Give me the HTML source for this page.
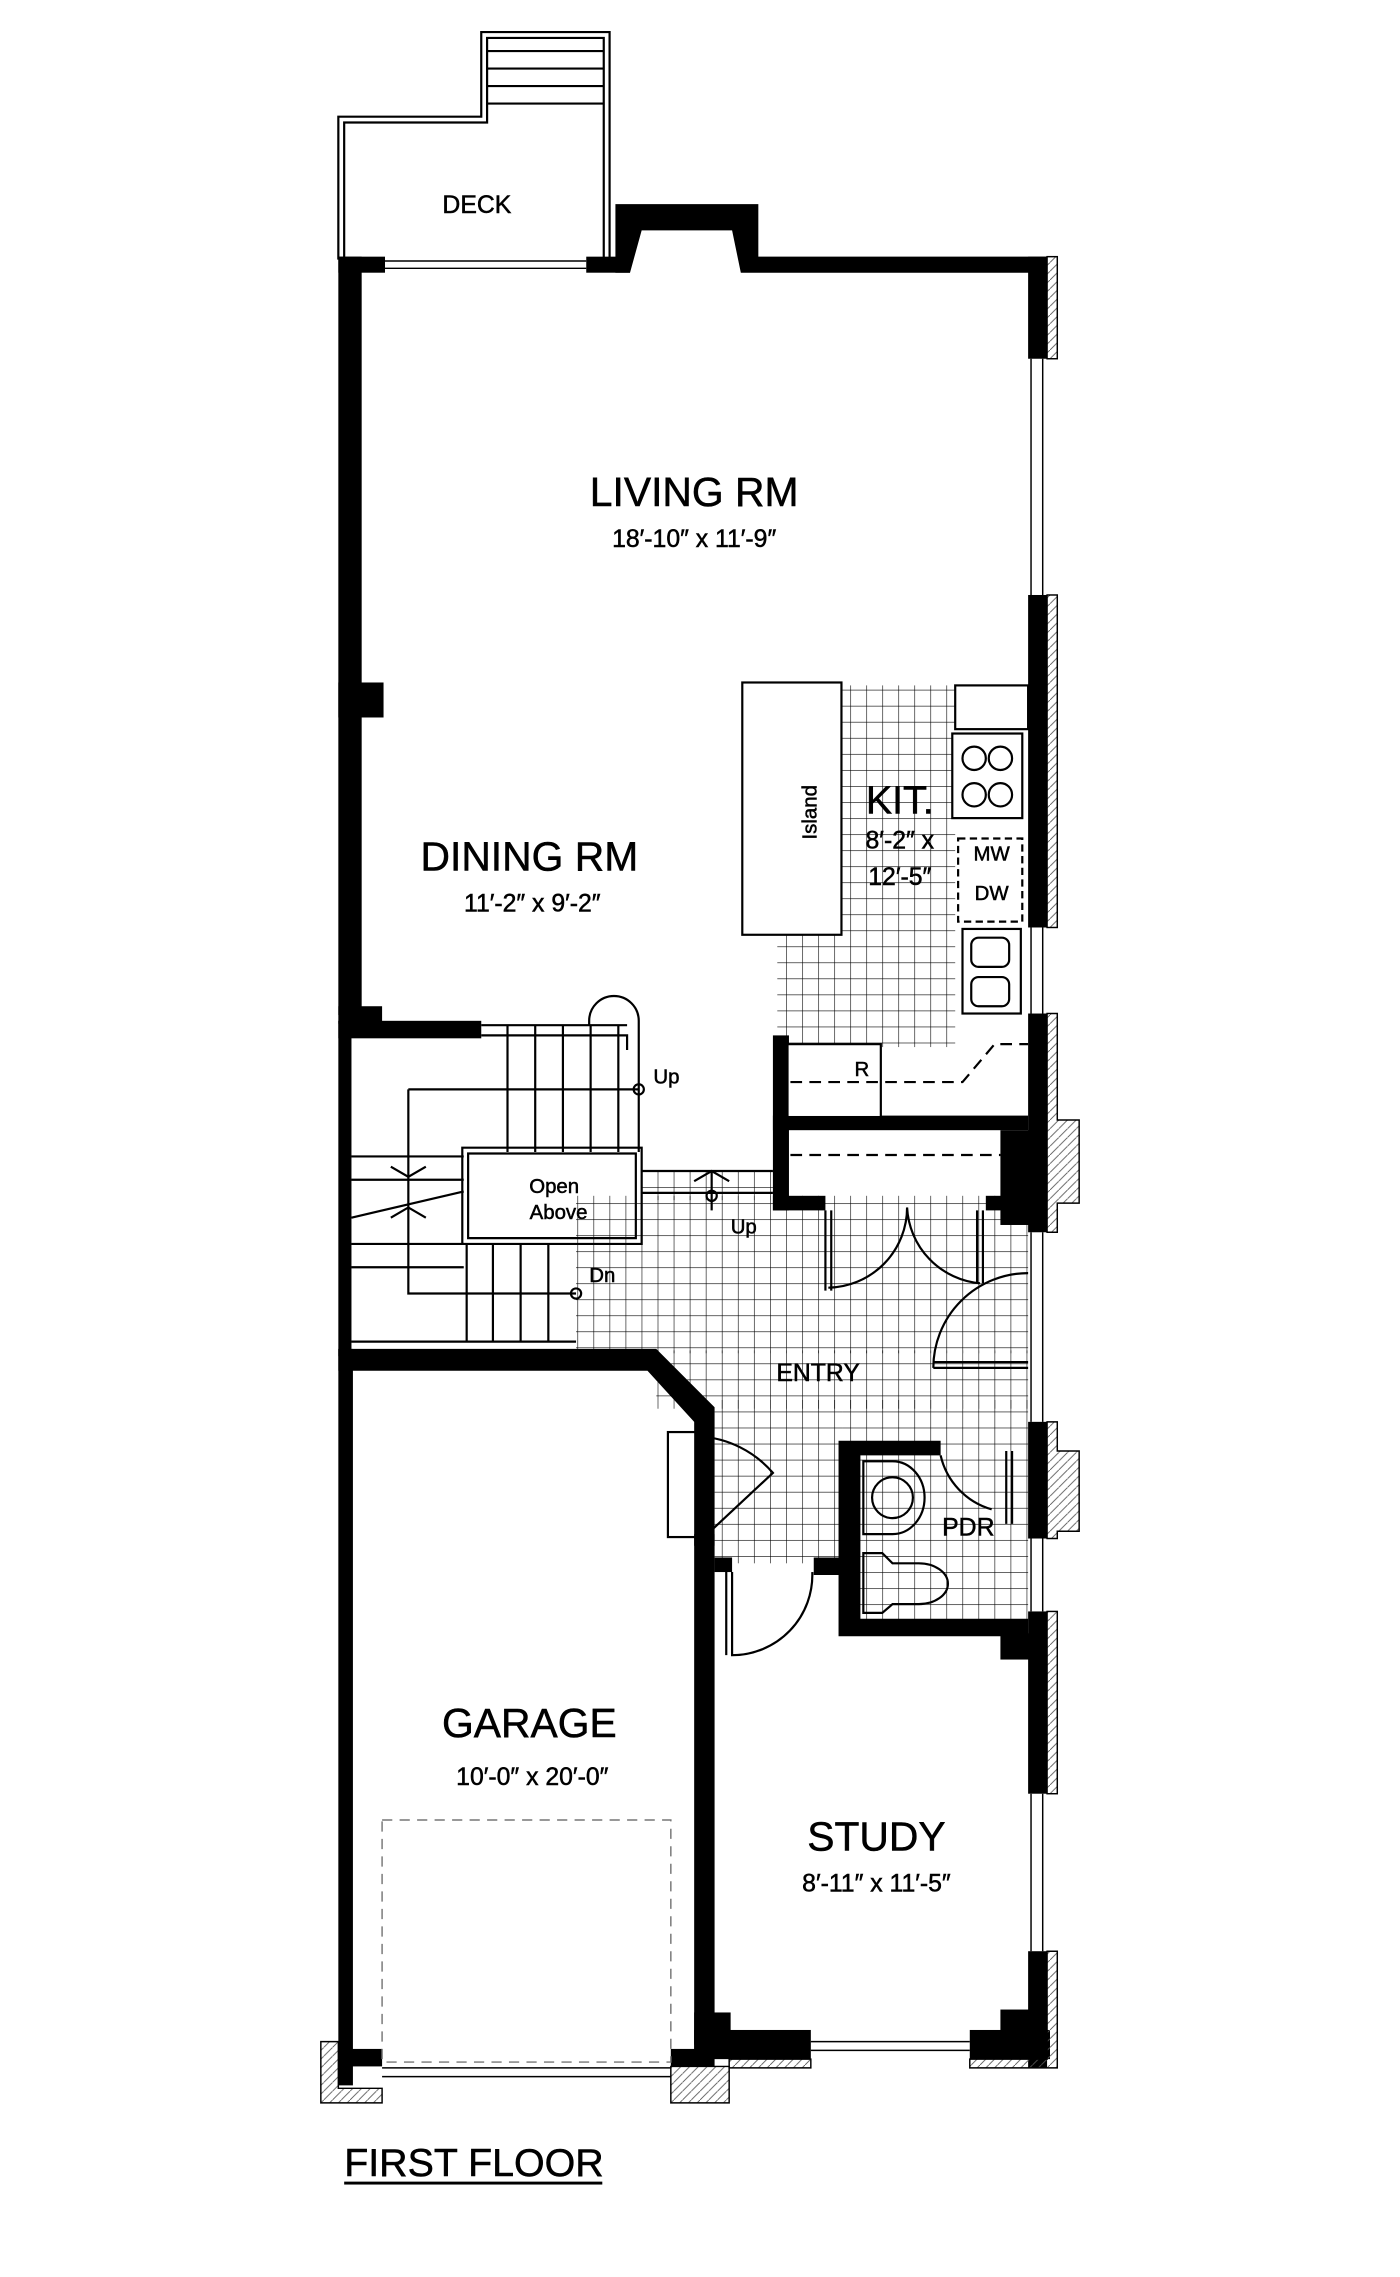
<!DOCTYPE html>
<html><head><meta charset="utf-8"><style>
html,body{margin:0;padding:0;background:#fff}
svg{display:block}
text{font-family:"Liberation Sans",sans-serif;fill:#000;text-anchor:middle;stroke:#000;stroke-width:0.35}
</style></head><body>
<svg width="1400" height="2277" viewBox="0 0 960 1561.4" xmlns="http://www.w3.org/2000/svg">
<defs>
<pattern id="g" width="11" height="11" patternUnits="userSpaceOnUse"><path d="M0 0H11M0 0V11" stroke="#000" stroke-width="0.8" fill="none"/></pattern>
<pattern id="h" width="6" height="6" patternUnits="userSpaceOnUse"><path d="M0 6L6 0" stroke="#555" stroke-width="0.6"/></pattern>
</defs>
<rect width="960" height="1561.4" fill="#fff"/>

<g fill="url(#g)">
<rect x="533" y="470" width="122" height="248"/>
<rect x="395" y="820" width="310" height="108"/>
<rect x="440" y="803" width="92" height="20"/>
<rect x="450" y="926" width="255" height="40"/>
<rect x="490" y="960" width="88" height="112"/>
<rect x="578" y="960" width="127" height="155"/>
</g>

<g fill="none" stroke="#000" stroke-width="1.5">
<path d="M232 178V80H330V22H418V178"/>
<path d="M236 178V84H334V26H414V178"/>
<path d="M334 35H414M334 47H414M334 59H414M334 71H414"/>
</g>
<text x="327" y="146" font-size="17">DECK</text>

<g fill="#000">
<rect x="232" y="176" width="32" height="11"/>
<rect x="402" y="176" width="30" height="11"/>
<path d="M422 140H520V176H718V187H508L502 158H440L432 187H422Z"/>
<rect x="232" y="176" width="16" height="520"/>
<rect x="232" y="468" width="31" height="24"/>
<rect x="232" y="690" width="30" height="12"/>
<rect x="232" y="700" width="98" height="12"/>
<rect x="232" y="700" width="9" height="230"/>
<rect x="232" y="925" width="10" height="505"/>
<path d="M232 925H450L490 965V1060H476V975L444 940H232Z"/>
<rect x="476" y="1052" width="14" height="350"/>
<rect x="476" y="1380" width="25" height="25"/>
<rect x="476" y="1392" width="80" height="20"/>
<rect x="665" y="1392" width="55" height="20"/>
<rect x="686" y="1378" width="30" height="22"/>
<rect x="232" y="1405" width="30" height="12"/>
<rect x="460" y="1405" width="30" height="12"/>
<rect x="705" y="176" width="13" height="70"/>
<rect x="705" y="408" width="13" height="228"/>
<rect x="705" y="695" width="13" height="150"/>
<rect x="686" y="775" width="32" height="65"/>
<rect x="705" y="975" width="13" height="80"/>
<rect x="705" y="1105" width="13" height="125"/>
<rect x="686" y="1120" width="20" height="18"/>
<rect x="705" y="1338" width="13" height="80"/>
<rect x="530" y="710" width="11" height="120"/>
<rect x="530" y="765" width="175" height="10"/>
<rect x="530" y="820" width="36" height="10"/>
<rect x="676" y="820" width="30" height="10"/>
<path d="M575 988H645V998H590V1110H705V1122H575V1080H558V1068H575Z"/>
<rect x="490" y="1068" width="12" height="10"/>
</g>
<g fill="url(#h)" stroke="#000" stroke-width="1">
<rect x="718" y="176" width="7" height="70"/>
<rect x="718" y="408" width="7" height="228"/>
<path d="M718 695H725V768H740V825H725V845H718Z"/>
<path d="M718 975H725V995H740V1050H725V1055H718Z"/>
<rect x="718" y="1105" width="7" height="125"/>
<path d="M718 1338H725V1418H665V1412H718Z"/>
<path d="M500 1412H556V1418H500Z"/>
<path d="M220 1400H232V1432H262V1442H220Z"/>
<path d="M460 1417H500V1442H460Z"/>
</g>
<g fill="none" stroke="#000" stroke-width="1">
<path d="M264 179H402M264 184H402"/>
<path d="M707 246V408M715 246V408"/>
<path d="M707 636V695M715 636V695"/>
<path d="M707 845V975M715 845V975"/>
<path d="M707 1055V1105M715 1055V1105"/>
<path d="M707 1230V1338M715 1230V1338"/>
<path d="M556 1400H665M556 1406H665"/>
<path d="M262 1418H460M262 1424H460"/>
<rect x="262" y="1248" width="198" height="166" stroke="#777" stroke-dasharray="7 5"/>
</g>

<g fill="#fff" stroke="#000" stroke-width="1.5">
<rect x="509" y="468" width="68" height="173"/>
<rect x="655" y="470" width="50" height="30"/>
<rect x="653" y="503" width="48" height="58"/>
<circle cx="668" cy="520" r="8"/><circle cx="686" cy="520" r="8"/>
<circle cx="668" cy="545" r="8"/><circle cx="686" cy="545" r="8"/>
<rect x="657" y="575" width="44" height="57" stroke-dasharray="5 3"/>
<rect x="660" y="637" width="40" height="58"/>
<rect x="666" y="643" width="26" height="20" rx="5"/>
<rect x="666" y="670" width="26" height="20" rx="5"/>
<rect x="540" y="716" width="64" height="50"/>
</g>
<g fill="none" stroke="#000" stroke-width="1.5">
<path d="M542 742H660L682 716H705" stroke-dasharray="8 5"/>
<path d="M542 792H686" stroke-dasharray="8 5"/>
</g>
<text x="555" y="557" font-size="14" transform="rotate(-90 555 557)" dy="5">Island</text>
<text x="617" y="558" font-size="27">KIT.</text>
<text x="617" y="582" font-size="17">8′-2″ x</text>
<text x="617" y="607" font-size="17">12′-5″</text>
<text x="680" y="590" font-size="14">MW</text>
<text x="680" y="617" font-size="14">DW</text>
<text x="591" y="738" font-size="14">R</text>

<g fill="none" stroke="#000" stroke-width="1.5">
<path d="M330 703H430M330 710H430V720"/>
<path d="M348 703V790M367 703V790M386 703V790M405 703V790M424 703V790"/>
<path d="M404 703V700A17 17 0 0 1 438 700V790"/>
<path d="M280 747H438M280 747V887H395"/>
<path d="M241 793H318M241 809H318M241 853H318M241 869H318"/>
<path d="M241 835L318 817"/>
<path d="M317 787H440V853H317Z M321 791H436V849H321Z"/>
<path d="M320 853V920M338 853V920M357 853V920M376 853V920"/>
<path d="M241 920H395"/>
<path d="M440 803H530M440 818H530"/>
<path d="M268 800L280 807L292 800M268 835L280 828L292 835"/>
<path d="M476 810L488 803L500 810"/>
<circle cx="438" cy="747" r="3.5"/><circle cx="488" cy="820" r="3.5"/><circle cx="395" cy="887" r="3.5"/>
<path d="M488 803V830"/>
</g>
<text x="380" y="818" font-size="14">Open</text>
<text x="383" y="836" font-size="14">Above</text>
<text x="457" y="743" font-size="14">Up</text>
<text x="510" y="846" font-size="14">Up</text>
<text x="413" y="879" font-size="14">Dn</text>

<g fill="none" stroke="#000" stroke-width="1.5">
<path d="M566 830V885M570 830V885"/>
<path d="M674 830V880M670 830V880"/>
<path d="M568 883A55 55 0 0 0 622 828A55 55 0 0 0 672 880"/>
<path d="M640 938A65 65 0 0 1 705 873"/>
<path d="M640 938H705M640 934H705"/>
<rect x="458" y="982" width="22" height="72"/>
<path d="M480 985A72 72 0 0 1 530 1010L485 1052"/>
<path d="M498 1078V1135M502 1078V1135A55 55 0 0 0 557 1078"/>
<path d="M645 998A50 50 0 0 0 680 1035"/>
<path d="M690 995V1045M694 995V1045"/>
<path d="M592 1002H612A22 25 0 0 1 612 1052H592Z"/>
<circle cx="612" cy="1027" r="14"/>
<path d="M592 1065H605L612 1072H630A20 14 0 0 1 630 1100H612L605 1106H592Z"/>
</g>

<text x="476" y="347" font-size="28">LIVING RM</text>
<text x="476" y="375" font-size="17">18′-10″ x 11′-9″</text>
<text x="363" y="597" font-size="28">DINING RM</text>
<text x="365" y="625" font-size="17">11′-2″ x 9′-2″</text>
<text x="561" y="947" font-size="17">ENTRY</text>
<text x="664" y="1053" font-size="17">PDR</text>
<text x="363" y="1191" font-size="28">GARAGE</text>
<text x="365" y="1224" font-size="17">10′-0″ x 20′-0″</text>
<text x="601" y="1269" font-size="28">STUDY</text>
<text x="601" y="1297" font-size="17">8′-11″ x 11′-5″</text>
<text x="325" y="1492" font-size="27">FIRST FLOOR</text>
<rect x="236" y="1496" width="177" height="2" fill="#000"/>
</svg>
</body></html>
